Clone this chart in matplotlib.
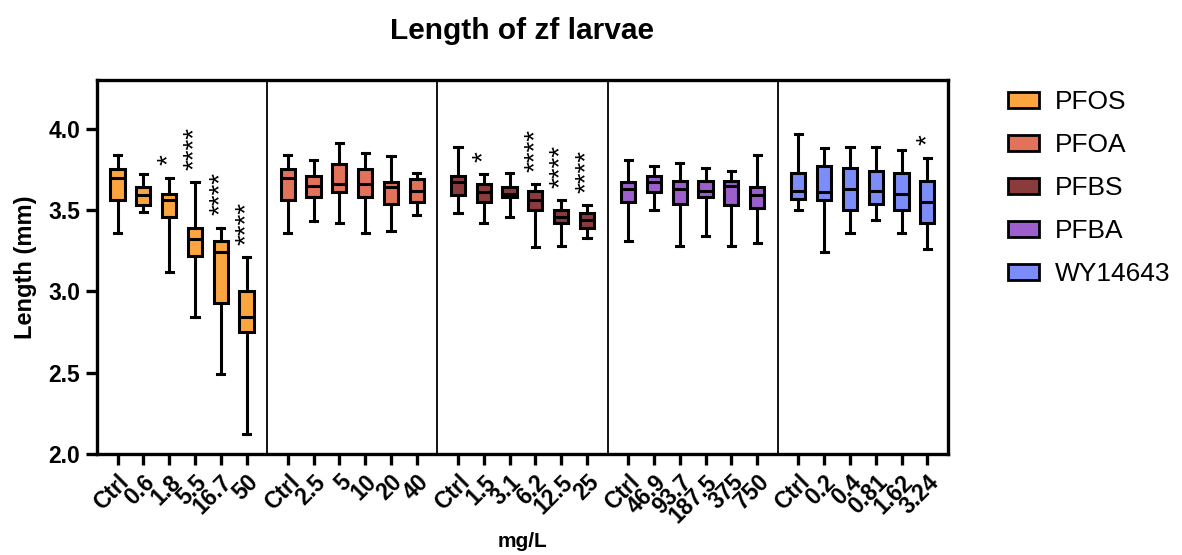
import matplotlib.pyplot as plt
from matplotlib.patches import Patch

plt.rcParams['font.family'] = ['Liberation Sans', 'DejaVu Sans']

# data (box stats per dose, mm)
compounds = ['PFOS', 'PFOA', 'PFBS', 'PFBA', 'WY14643']
colors = ['#FBA540', '#E27259', '#8C3B3D', '#9C5FCB', '#7C8DFA']

doses = [['Ctrl', '0.6', '1.8', '5.5', '16.7', '50'],
         ['Ctrl', '2.5', '5', '10', '20', '40'],
         ['Ctrl', '1.5', '3.1', '6.2', '12.5', '25'],
         ['Ctrl', '46.9', '93.7', '187.5', '375', '750'],
         ['Ctrl', '0.2', '0.4', '0.81', '1.62', '3.24']]

whis_hi = [[3.84, 3.72, 3.70, 3.67, 3.39, 3.21],
           [3.84, 3.81, 3.91, 3.85, 3.83, 3.73],
           [3.89, 3.72, 3.73, 3.66, 3.56, 3.53],
           [3.81, 3.77, 3.79, 3.76, 3.74, 3.84],
           [3.97, 3.88, 3.89, 3.89, 3.87, 3.82]]
q3 = [[3.75, 3.64, 3.60, 3.39, 3.31, 3.00],
      [3.75, 3.71, 3.78, 3.75, 3.67, 3.69],
      [3.71, 3.66, 3.64, 3.62, 3.50, 3.48],
      [3.67, 3.71, 3.68, 3.68, 3.68, 3.64],
      [3.73, 3.77, 3.76, 3.74, 3.73, 3.68]]
med = [[3.70, 3.59, 3.56, 3.32, 3.24, 2.84],
       [3.70, 3.65, 3.66, 3.66, 3.64, 3.62],
       [3.67, 3.61, 3.60, 3.56, 3.46, 3.44],
       [3.63, 3.67, 3.63, 3.62, 3.65, 3.59],
       [3.62, 3.61, 3.63, 3.62, 3.60, 3.55]]
q1 = [[3.56, 3.53, 3.46, 3.22, 2.93, 2.75],
      [3.56, 3.58, 3.61, 3.58, 3.54, 3.55],
      [3.59, 3.55, 3.58, 3.50, 3.42, 3.39],
      [3.55, 3.61, 3.54, 3.58, 3.53, 3.51],
      [3.57, 3.56, 3.50, 3.54, 3.50, 3.42]]
whis_lo = [[3.36, 3.49, 3.12, 2.84, 2.49, 2.12],
           [3.36, 3.43, 3.42, 3.36, 3.37, 3.47],
           [3.48, 3.42, 3.46, 3.27, 3.28, 3.33],
           [3.31, 3.50, 3.28, 3.34, 3.28, 3.30],
           [3.50, 3.24, 3.36, 3.44, 3.36, 3.26]]
stars = [['', '', '*', '****', '****', '****'],
         ['', '', '', '', '', ''],
         ['', '*', '', '****', '****', '****'],
         ['', '', '', '', '', ''],
         ['', '', '', '', '', '*']]

panel_w = 6.6
margin = 0.8

fig = plt.figure(figsize=(11.82, 5.55), dpi=100)
ax = fig.add_axes([0.082, 0.182, 0.72, 0.674])

all_pos = []
all_labels = []
for g in range(len(compounds)):
    pos = [g * panel_w + margin + i for i in range(6)]
    stats = []
    for i in range(6):
        stats.append({'whislo': whis_lo[g][i], 'q1': q1[g][i], 'med': med[g][i],
                      'q3': q3[g][i], 'whishi': whis_hi[g][i]})
    ax.bxp(stats, positions=pos, widths=0.55, patch_artist=True, showfliers=False,
           capwidths=0.28,
           boxprops=dict(facecolor=colors[g], edgecolor='black', linewidth=2.2),
           medianprops=dict(color='black', linewidth=2.2),
           whiskerprops=dict(color='black', linewidth=2.2),
           capprops=dict(color='black', linewidth=2.2))
    for i in range(6):
        if stars[g][i]:
            ax.annotate(stars[g][i], (pos[i], whis_hi[g][i]), xytext=(0, 9),
                        textcoords='offset points', rotation=90, ha='center',
                        va='bottom', fontsize=20)
    all_pos += pos
    all_labels += doses[g]
    if g > 0:
        ax.axvline(g * panel_w, color='black', lw=1.3)

ax.set_xlim(0, panel_w * len(compounds))
ax.set_ylim(2.0, 4.3)
ax.set_yticks([2.0, 2.5, 3.0, 3.5, 4.0])
ax.set_yticklabels(['2.0', '2.5', '3.0', '3.5', '4.0'], fontsize=16.5, fontweight='bold')
ax.set_xticks(all_pos)
ax.set_xticklabels(all_labels, rotation=45, ha='right', rotation_mode='anchor',
                   fontsize=16.5, fontweight='bold')

for s in ax.spines.values():
    s.set_linewidth(2.4)
ax.tick_params(axis='both', direction='out', length=8, width=2.4, pad=4)

ax.set_ylabel('Length (mm)', fontsize=17, fontweight='bold', labelpad=8)
fig.text(0.442, 0.024, 'mg/L', fontsize=15, fontweight='bold', ha='center', va='center')
fig.text(0.442, 0.945, 'Length of zf larvae', fontsize=21.5, fontweight='bold',
         ha='center', va='center')

handles = [Patch(facecolor=c, edgecolor='black', linewidth=2) for c in colors]
fig.legend(handles, compounds, loc='upper left', bbox_to_anchor=(0.833, 0.88),
           frameon=False, fontsize=19, handlelength=1.18, handleheight=0.5,
           labelspacing=0.72, handletextpad=0.6)

fig.savefig('out.png', dpi=100)
